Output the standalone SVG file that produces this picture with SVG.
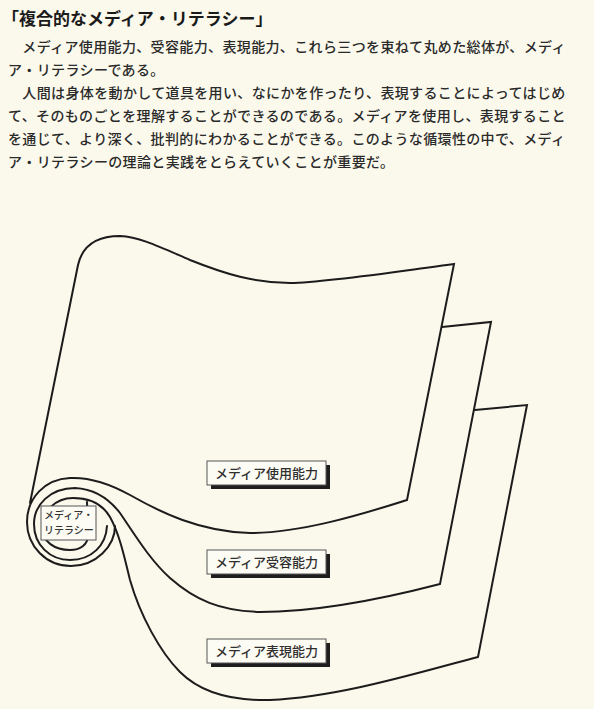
<svg xmlns="http://www.w3.org/2000/svg" width="594" height="709" viewBox="0 0 594 709">
  <style>
    .body { font-family: "Noto Sans CJK JP", "Noto Sans", sans-serif; font-size: 14px; font-weight: 500; fill: #2a2a2a; letter-spacing: 0.36px; }
    .title { font-family: "Noto Sans CJK JP", "Noto Sans", sans-serif; font-size: 17px; font-weight: 700; fill: #1a1a1a; }
    .sheet { fill: none; stroke: #1c1c1c; stroke-width: 2; stroke-linejoin: miter; stroke-linecap: round; }
    .box { fill: #fdfcf4; stroke: #555; stroke-width: 1; }
    .shadow { fill: #1e1e1e; }
    .lbl { font-family: "Noto Sans CJK JP", "Noto Sans", sans-serif; font-size: 13px; font-weight: 500; fill: #2f2f2f; text-anchor: middle; }
    .small { font-family: "Noto Sans CJK JP", "Noto Sans", sans-serif; font-size: 10px; font-weight: 500; fill: #333; }
  </style>
  <rect width="594" height="709" fill="#fbf9ec"/>

  <!-- heading and explanation -->
  <g id="heading">
    <text class="title" x="2" y="25">「複合的なメディア・リテラシー」</text>
    <text class="body" x="8" y="52">　メディア使用能力、受容能力、表現能力、これら三つを束ねて丸めた総体が、メディ</text>
    <text class="body" x="8" y="75">ア・リテラシーである。</text>
    <text class="body" x="8" y="98">　人間は身体を動かして道具を用い、なにかを作ったり、表現することによってはじめ</text>
    <text class="body" x="8" y="121">て、そのものごとを理解することができるのである。メディアを使用し、表現すること</text>
    <text class="body" x="8" y="144">を通じて、より深く、批判的にわかることができる。このような循環性の中で、メディ</text>
    <text class="body" x="8" y="167">ア・リテラシーの理論と実践をとらえていくことが重要だ。</text>
  </g>

  <!-- three sheets rolled together at the left -->
  <g id="connectors">
    <path id="sheet-use-edge" class="sheet" d="M 30,503 L 78,265 C 83,243 100,236 120,236 C 140,237 160,247 190,260 C 225,274 255,283 290,283 C 330,282 400,271 454,264 L 407,500 C 360,515 300,533 250,533 C 200,532 160,512 130,495 C 112,485 90,477 70,478 C 45,479 27,498 27,522 C 27,546 46,566 71,566 C 96,566 115,546 115,526"/>
    <path id="sheet-receive-edge" class="sheet" d="M 442,327 L 491,322 L 440,584 C 390,597 320,612 260,612 C 220,611 195,600 170,578 C 150,560 135,535 120,513 C 110,500 95,489 75,488 C 50,488 34,505 34,524 C 34,545 50,560 70,560 C 92,560 106,545 107,526"/>
    <path id="sheet-express-edge" class="sheet" d="M 475,410 L 527,405 L 478,657 C 420,672 340,697 270,700 C 230,701 200,692 180,672 C 160,652 140,615 130,580 C 125,560 120,535 110,517 C 103,505 90,498 73,498 C 55,498 42,512 42,527 C 42,542 55,550 70,550 C 80,550 88,545 88,535 L 87,502"/>
  </g>

  <g id="node-use">
    <rect class="shadow" x="211" y="465" width="119" height="24"/>
    <rect class="box" x="207" y="461" width="119" height="24"/>
    <text class="lbl" x="266.5" y="478">メディア使用能力</text>
  </g>
  <g id="node-receive">
    <rect class="shadow" x="211" y="554" width="119" height="24"/>
    <rect class="box" x="207" y="550" width="119" height="24"/>
    <text class="lbl" x="266.5" y="567">メディア受容能力</text>
  </g>
  <g id="node-express">
    <rect class="shadow" x="211" y="643" width="119" height="24"/>
    <rect class="box" x="207" y="639" width="119" height="24"/>
    <text class="lbl" x="266.5" y="656">メディア表現能力</text>
  </g>
  <g id="node-literacy">
    <rect class="box" x="41" y="506" width="55" height="34"/>
    <text class="small" x="44" y="519">メディア・</text>
    <text class="small" x="44" y="534">リテラシー</text>
  </g>
</svg>
